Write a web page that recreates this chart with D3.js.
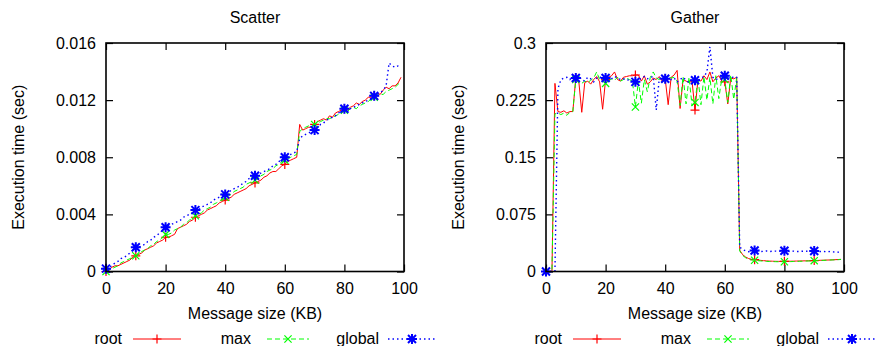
<!DOCTYPE html>
<html>
<head>
<meta charset="utf-8">
<script src="https://cdn.jsdelivr.net/npm/d3@7"></script>
<style>
  body { margin: 0; background: #fff; }
  text { font-family: "Liberation Sans", Arial, Helvetica, sans-serif; fill: #000; }
</style>
</head>
<body>
<svg width="875" height="346"></svg>
<script>
// message sizes (KB), one sample per KB
const sizes = [
  0, 1, 2, 3, 4, 5, 6, 7, 8, 9,
  10, 11, 12, 13, 14, 15, 16, 17, 18, 19,
  20, 21, 22, 23, 24, 25, 26, 27, 28, 29,
  30, 31, 32, 33, 34, 35, 36, 37, 38, 39,
  40, 41, 42, 43, 44, 45, 46, 47, 48, 49,
  50, 51, 52, 53, 54, 55, 56, 57, 58, 59,
  60, 61, 62, 63, 64, 65, 66, 67, 68, 69,
  70, 71, 72, 73, 74, 75, 76, 77, 78, 79,
  80, 81, 82, 83, 84, 85, 86, 87, 88, 89,
  90, 91, 92, 93, 94, 95, 96, 97, 98, 99
];

const seriesNames = ["root", "max", "global"];
const xTicks = [0, 20, 40, 60, 80, 100];

// Scatter (sec)
const scatterRoot = [
  0.0000, 0.0001, 0.0003, 0.0004, 0.0004, 0.0005, 0.0006, 0.0007, 0.0008, 0.0010,
  0.0011, 0.0012, 0.0013, 0.0015, 0.0016, 0.0017, 0.0018, 0.0020, 0.0021, 0.0022,
  0.0024, 0.0024, 0.0025, 0.0026, 0.0030, 0.0031, 0.0032, 0.0033, 0.0035, 0.0036,
  0.0038, 0.0039, 0.0040, 0.0041, 0.0043, 0.0044, 0.0045, 0.0046, 0.0048, 0.0049,
  0.0050, 0.0051, 0.0052, 0.0054, 0.0055, 0.0056, 0.0057, 0.0058, 0.0060, 0.0061,
  0.0062, 0.0063, 0.0064, 0.0066, 0.0067, 0.0069, 0.0070, 0.0070, 0.0072, 0.0074,
  0.0075, 0.0077, 0.0078, 0.0079, 0.0080, 0.0103, 0.0099, 0.0100, 0.0101, 0.0101,
  0.0103, 0.0105, 0.0106, 0.0107, 0.0106, 0.0109, 0.0108, 0.0111, 0.0112, 0.0113,
  0.0114, 0.0113, 0.0115, 0.0116, 0.0118, 0.0117, 0.0119, 0.0120, 0.0122, 0.0122,
  0.0123, 0.0125, 0.0124, 0.0127, 0.0129, 0.0128, 0.0130, 0.0130, 0.0132, 0.0136
];
const scatterMax = [
  0.0000, 0.0001, 0.0002, 0.0003, 0.0004, 0.0006, 0.0007, 0.0008, 0.0009, 0.0010,
  0.0011, 0.0012, 0.0014, 0.0015, 0.0016, 0.0018, 0.0019, 0.0021, 0.0022, 0.0024,
  0.0026, 0.0026, 0.0027, 0.0029, 0.0030, 0.0031, 0.0033, 0.0034, 0.0036, 0.0037,
  0.0039, 0.0040, 0.0041, 0.0043, 0.0044, 0.0045, 0.0047, 0.0048, 0.0049, 0.0051,
  0.0052, 0.0053, 0.0054, 0.0056, 0.0057, 0.0058, 0.0059, 0.0061, 0.0062, 0.0063,
  0.0064, 0.0065, 0.0067, 0.0068, 0.0070, 0.0071, 0.0072, 0.0074, 0.0075, 0.0077,
  0.0078, 0.0079, 0.0080, 0.0081, 0.0082, 0.0098, 0.0100, 0.0101, 0.0102, 0.0102,
  0.0103, 0.0104, 0.0105, 0.0106, 0.0107, 0.0107, 0.0108, 0.0109, 0.0110, 0.0111,
  0.0113, 0.0112, 0.0114, 0.0115, 0.0114, 0.0116, 0.0117, 0.0118, 0.0119, 0.0121,
  0.0122, 0.0123, 0.0124, 0.0124, 0.0126, 0.0127, 0.0128, 0.0129, 0.0131, 0.0133
];
const scatterGlobal = [
  0.0002, 0.0003, 0.0004, 0.0006, 0.0007, 0.0009, 0.0010, 0.0011, 0.0013, 0.0015,
  0.0017, 0.0017, 0.0018, 0.0019, 0.0021, 0.0022, 0.0024, 0.0025, 0.0027, 0.0029,
  0.0031, 0.0032, 0.0033, 0.0034, 0.0035, 0.0036, 0.0038, 0.0039, 0.0040, 0.0041,
  0.0043, 0.0043, 0.0045, 0.0046, 0.0047, 0.0048, 0.0050, 0.0051, 0.0052, 0.0053,
  0.0054, 0.0055, 0.0057, 0.0058, 0.0059, 0.0060, 0.0062, 0.0063, 0.0065, 0.0066,
  0.0067, 0.0067, 0.0069, 0.0070, 0.0071, 0.0072, 0.0074, 0.0075, 0.0077, 0.0078,
  0.0080, 0.0081, 0.0082, 0.0083, 0.0084, 0.0093, 0.0095, 0.0096, 0.0097, 0.0098,
  0.0099, 0.0101, 0.0103, 0.0104, 0.0106, 0.0107, 0.0108, 0.0109, 0.0111, 0.0112,
  0.0114, 0.0113, 0.0114, 0.0115, 0.0116, 0.0117, 0.0118, 0.0119, 0.0120, 0.0121,
  0.0123, 0.0124, 0.0125, 0.0127, 0.0130, 0.0146, 0.0144, 0.0143, 0.0144, 0.0144
];
const scatterTicks = [0, 0.004, 0.008, 0.012, 0.016];
const scatterTickLabels = ["0", "0.004", "0.008", "0.012", "0.016"];

// Gather (sec)
const gatherRoot = [
  0, 0, 0, 0.247, 0.210, 0.209, 0.211, 0.208, 0.210, 0.210,
  0.254, 0.250, 0.209, 0.248, 0.250, 0.246, 0.252, 0.256, 0.249, 0.213,
  0.252, 0.255, 0.257, 0.262, 0.252, 0.250, 0.255, 0.256, 0.257, 0.257,
  0.258, 0.258, 0.250, 0.257, 0.246, 0.249, 0.254, 0.252, 0.256, 0.250,
  0.253, 0.219, 0.255, 0.258, 0.264, 0.214, 0.252, 0.250, 0.248, 0.250,
  0.212, 0.252, 0.250, 0.257, 0.252, 0.262, 0.249, 0.254, 0.257, 0.250,
  0.249, 0.220, 0.254, 0.253, 0.255, 0.028, 0.022, 0.019, 0.017, 0.016,
  0.0155, 0.0150, 0.0146, 0.0142, 0.0139, 0.0137, 0.0135, 0.0134, 0.0133, 0.0133,
  0.0133, 0.0134, 0.0135, 0.0136, 0.0137, 0.0138, 0.0139, 0.0140, 0.0141, 0.0142,
  0.0144, 0.0145, 0.0147, 0.0148, 0.0150, 0.0151, 0.0153, 0.0155, 0.0157, 0.0160
];
const gatherMax = [
  0, 0, 0, 0.207, 0.208, 0.206, 0.208, 0.205, 0.209, 0.210,
  0.252, 0.250, 0.247, 0.250, 0.248, 0.251, 0.254, 0.262, 0.252, 0.250,
  0.247, 0.250, 0.253, 0.251, 0.255, 0.250, 0.252, 0.254, 0.252, 0.250,
  0.216, 0.250, 0.221, 0.252, 0.236, 0.255, 0.262, 0.254, 0.252, 0.255,
  0.253, 0.256, 0.254, 0.255, 0.250, 0.218, 0.256, 0.220, 0.255, 0.218,
  0.222, 0.254, 0.219, 0.256, 0.225, 0.255, 0.220, 0.257, 0.227, 0.254,
  0.252, 0.222, 0.258, 0.226, 0.255, 0.027, 0.021, 0.018, 0.016, 0.0152,
  0.0148, 0.0143, 0.0139, 0.0136, 0.0133, 0.0131, 0.0130, 0.0129, 0.0128, 0.0128,
  0.0128, 0.0129, 0.0130, 0.0131, 0.0133, 0.0134, 0.0135, 0.0137, 0.0138, 0.0140,
  0.0142, 0.0143, 0.0145, 0.0146, 0.0148, 0.0150, 0.0152, 0.0153, 0.0155, 0.0158
];
const gatherGlobal = [
  0, 0, 0, 0, 0.240, 0.252, 0.254, 0.255, 0.252, 0.256,
  0.254, 0.257, 0.252, 0.250, 0.255, 0.253, 0.249, 0.254, 0.256, 0.252,
  0.254, 0.255, 0.253, 0.256, 0.254, 0.252, 0.253, 0.251, 0.252, 0.250,
  0.249, 0.251, 0.254, 0.256, 0.253, 0.255, 0.256, 0.212, 0.253, 0.256,
  0.253, 0.250, 0.252, 0.254, 0.249, 0.252, 0.255, 0.251, 0.248, 0.252,
  0.251, 0.250, 0.254, 0.256, 0.262, 0.295, 0.255, 0.252, 0.254, 0.256,
  0.257, 0.255, 0.253, 0.256, 0.255, 0.032, 0.029, 0.027, 0.026, 0.0265,
  0.0276, 0.0268, 0.0262, 0.0265, 0.0270, 0.0262, 0.0266, 0.0268, 0.0264, 0.0270,
  0.0272, 0.0266, 0.0262, 0.0268, 0.0264, 0.0262, 0.0266, 0.0264, 0.0268, 0.0270,
  0.0270, 0.0265, 0.0262, 0.0264, 0.0260, 0.0262, 0.0258, 0.0256, 0.0254, 0.0252
];
const gatherTicks = [0, 0.075, 0.15, 0.225, 0.3];
const gatherTickLabels = ["0", "0.075", "0.15", "0.225", "0.3"];

// ---- layout ----
const panels = [
  { title: "Scatter", dx: 0, yMax: 0.016, ticks: scatterTicks, labels: scatterTickLabels,
    data: [scatterRoot, scatterMax, scatterGlobal] },
  { title: "Gather", dx: 440, yMax: 0.3, ticks: gatherTicks, labels: gatherTickLabels,
    data: [gatherRoot, gatherMax, gatherGlobal] }
];

const plotL = 106, plotR = 404, plotT = 43, plotB = 271.5;
const tickLen = 7;

const styles = [
  { color: "#ff0000", dash: null, mark: "plus" },
  { color: "#00ff00", dash: "5,3", mark: "cross" },
  { color: "#0000ff", dash: "1.5,3", mark: "star" }
];

function markPath(kind, r) {
  const plus = `M${-r},0H${r}M0,${-r}V${r}`;
  const c = r * 0.8;
  const cross = `M${-c},${-c}L${c},${c}M${-c},${c}L${c},${-c}`;
  if (kind === "plus") return plus;
  if (kind === "cross") return cross;
  return plus + cross;
}

const svg = d3.select("svg");

panels.forEach(p => {
  const g = svg.append("g").attr("transform", `translate(${p.dx},0)`);

  const x = d3.scaleLinear().domain([0, 100]).range([plotL, plotR]);
  const y = d3.scaleLinear().domain([0, p.yMax]).range([plotB, plotT]);

  // axes with inward ticks, mirrored on top and right
  g.append("g")
    .attr("transform", `translate(0,${plotB})`)
    .call(d3.axisBottom(x).tickValues(xTicks).tickSize(-tickLen).tickPadding(11).tickFormat(d3.format("d")))
    .call(a => a.select(".domain").remove());
  g.append("g")
    .attr("transform", `translate(0,${plotT})`)
    .call(d3.axisTop(x).tickValues(xTicks).tickSize(-tickLen).tickFormat(""))
    .call(a => a.select(".domain").remove());
  g.append("g")
    .attr("transform", `translate(${plotL},0)`)
    .call(d3.axisLeft(y).tickValues(p.ticks).tickSize(-tickLen).tickPadding(10)
      .tickFormat((d, i) => p.labels[i]))
    .call(a => a.select(".domain").remove());
  g.append("g")
    .attr("transform", `translate(${plotR},0)`)
    .call(d3.axisRight(y).tickValues(p.ticks).tickSize(-tickLen).tickFormat(""))
    .call(a => a.select(".domain").remove());

  g.selectAll(".tick line").attr("stroke", "#000").attr("stroke-width", 1.2);
  g.selectAll(".tick text").attr("font-size", 16).attr("font-family", null);

  // series
  const line = d3.line().x(d => x(d[0])).y(d => y(d[1]));
  p.data.forEach((vals, i) => {
    const st = styles[i];
    const pts = sizes.map((s, k) => [s, vals[k]]);
    g.append("path")
      .datum(pts)
      .attr("d", line)
      .attr("fill", "none")
      .attr("stroke", st.color)
      .attr("stroke-width", i === 2 ? 1.4 : 1)
      .attr("stroke-dasharray", st.dash);
    g.selectAll(null)
      .data(pts.filter(d => d[0] % 10 === 0))
      .enter().append("path")
      .attr("transform", d => `translate(${x(d[0])},${y(d[1])})`)
      .attr("d", markPath(st.mark, i === 2 ? 5 : 4.5))
      .attr("stroke", st.color)
      .attr("stroke-width", i === 2 ? 2 : 1.2)
      .attr("fill", "none");
  });

  // frame
  g.append("rect")
    .attr("x", plotL).attr("y", plotT)
    .attr("width", plotR - plotL).attr("height", plotB - plotT)
    .attr("fill", "none").attr("stroke", "#000").attr("stroke-width", 1.6);

  // titles
  g.append("text")
    .attr("x", (plotL + plotR) / 2).attr("y", 23)
    .attr("text-anchor", "middle").attr("font-size", 16)
    .text(p.title);
  g.append("text")
    .attr("x", (plotL + plotR) / 2).attr("y", 319)
    .attr("text-anchor", "middle").attr("font-size", 16)
    .text("Message size (KB)");
  g.append("text")
    .attr("transform", `translate(24,${(plotT + plotB) / 2}) rotate(-90)`)
    .attr("text-anchor", "middle").attr("font-size", 16)
    .text("Execution time (sec)");

  // key
  const keyEnds = [122, 251, 379];
  const keySamples = [[133, 181], [267, 309], [388, 436]];
  const keyY = 339;
  seriesNames.forEach((name, i) => {
    const st = styles[i];
    g.append("text")
      .attr("x", keyEnds[i]).attr("y", keyY + 5)
      .attr("text-anchor", "end").attr("font-size", 16)
      .text(name);
    g.append("line")
      .attr("x1", keySamples[i][0]).attr("x2", keySamples[i][1])
      .attr("y1", keyY).attr("y2", keyY)
      .attr("stroke", st.color)
      .attr("stroke-width", i === 2 ? 1.4 : 1)
      .attr("stroke-dasharray", st.dash);
    g.append("path")
      .attr("transform", `translate(${(keySamples[i][0] + keySamples[i][1]) / 2},${keyY})`)
      .attr("d", markPath(st.mark, i === 2 ? 5 : 4.5))
      .attr("stroke", st.color)
      .attr("stroke-width", i === 2 ? 2 : 1.2)
      .attr("fill", "none");
  });
});
</script>
</body>
</html>
